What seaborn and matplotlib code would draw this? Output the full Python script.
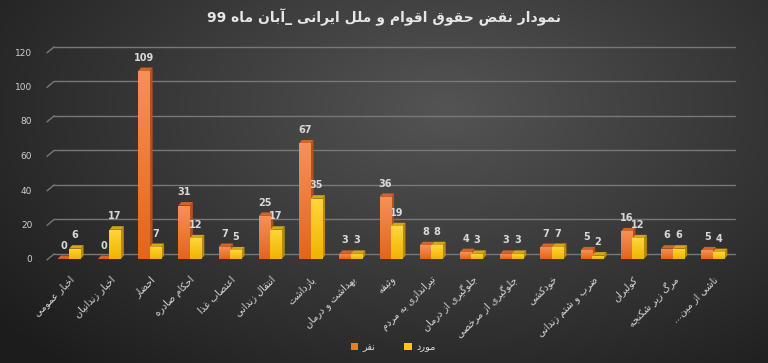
import re
import numpy as np
import pandas as pd
import matplotlib
matplotlib.use("Agg")
import matplotlib.pyplot as plt
from matplotlib.patches import Polygon, Patch
from matplotlib.colors import LinearSegmentedColormap
import seaborn as sns

# ---------------- data ----------------
title_text = "نمودار نقض حقوق اقوام و ملل ایرانی _آبان ماه 99"
categories = ["اخبار عمومی", "اخبار زندانیان", "احضار", "احکام صادره", "اعتصاب غذا",
              "انتقال زندانی", "بازداشت", "بهداشت و درمان", "وثیقه", "تیراندازی به مردم",
              "جلوگیری از درمان", "جلوگیری از مرخصی", "خودکشی", "ضرب و شتم زندانی",
              "کولبران", "مرگ زیر شکنجه", "ناشی از مین..."]
series_names = ["نفر", "مورد"]
values_nafar = [0, 0, 109, 31, 7, 25, 67, 3, 36, 8, 4, 3, 7, 5, 16, 6, 5]
values_mored = [6, 17, 7, 12, 5, 17, 35, 3, 19, 8, 3, 3, 7, 2, 12, 6, 4]
y_ticks = [0, 20, 40, 60, 80, 100, 120]

# ---------------- Arabic/Persian shaping ----------------
def _f(*codes):
    return tuple(chr(c) for c in codes)

FORMS = {
    'ء': _f(0xFE80, 0xFE80),
    'آ': _f(0xFE81, 0xFE82), 'أ': _f(0xFE83, 0xFE84), 'ؤ': _f(0xFE85, 0xFE86),
    'إ': _f(0xFE87, 0xFE88), 'ئ': _f(0xFE89, 0xFE8A, 0xFE8B, 0xFE8C),
    'ا': _f(0xFE8D, 0xFE8E), 'ب': _f(0xFE8F, 0xFE90, 0xFE91, 0xFE92),
    'ة': _f(0xFE93, 0xFE94), 'ت': _f(0xFE95, 0xFE96, 0xFE97, 0xFE98),
    'ث': _f(0xFE99, 0xFE9A, 0xFE9B, 0xFE9C), 'ج': _f(0xFE9D, 0xFE9E, 0xFE9F, 0xFEA0),
    'ح': _f(0xFEA1, 0xFEA2, 0xFEA3, 0xFEA4), 'خ': _f(0xFEA5, 0xFEA6, 0xFEA7, 0xFEA8),
    'د': _f(0xFEA9, 0xFEAA), 'ذ': _f(0xFEAB, 0xFEAC), 'ر': _f(0xFEAD, 0xFEAE),
    'ز': _f(0xFEAF, 0xFEB0), 'س': _f(0xFEB1, 0xFEB2, 0xFEB3, 0xFEB4),
    'ش': _f(0xFEB5, 0xFEB6, 0xFEB7, 0xFEB8), 'ص': _f(0xFEB9, 0xFEBA, 0xFEBB, 0xFEBC),
    'ض': _f(0xFEBD, 0xFEBE, 0xFEBF, 0xFEC0), 'ط': _f(0xFEC1, 0xFEC2, 0xFEC3, 0xFEC4),
    'ظ': _f(0xFEC5, 0xFEC6, 0xFEC7, 0xFEC8), 'ع': _f(0xFEC9, 0xFECA, 0xFECB, 0xFECC),
    'غ': _f(0xFECD, 0xFECE, 0xFECF, 0xFED0), 'ف': _f(0xFED1, 0xFED2, 0xFED3, 0xFED4),
    'ق': _f(0xFED5, 0xFED6, 0xFED7, 0xFED8), 'ك': _f(0xFED9, 0xFEDA, 0xFEDB, 0xFEDC),
    'ل': _f(0xFEDD, 0xFEDE, 0xFEDF, 0xFEE0), 'م': _f(0xFEE1, 0xFEE2, 0xFEE3, 0xFEE4),
    'ن': _f(0xFEE5, 0xFEE6, 0xFEE7, 0xFEE8), 'ه': _f(0xFEE9, 0xFEEA, 0xFEEB, 0xFEEC),
    'و': _f(0xFEED, 0xFEEE), 'ى': _f(0xFEEF, 0xFEF0),
    'ي': _f(0xFEF1, 0xFEF2, 0xFEF3, 0xFEF4),
    'پ': _f(0xFB56, 0xFB57, 0xFB58, 0xFB59), 'چ': _f(0xFB7A, 0xFB7B, 0xFB7C, 0xFB7D),
    'ژ': _f(0xFB8A, 0xFB8B), 'ک': _f(0xFB8E, 0xFB8F, 0xFB90, 0xFB91),
    'گ': _f(0xFB92, 0xFB93, 0xFB94, 0xFB95), 'ی': _f(0xFBFC, 0xFBFD, 0xFBFE, 0xFBFF),
}
LAM_ALEF = {'ا': _f(0xFEFB, 0xFEFC), 'آ': _f(0xFEF5, 0xFEF6),
            'أ': _f(0xFEF7, 0xFEF8), 'إ': _f(0xFEF9, 0xFEFA)}


def shape(s):
    items = []
    i = 0
    while i < len(s):
        c = s[i]
        if c == 'ل' and i + 1 < len(s) and s[i + 1] in LAM_ALEF:
            items.append(('LA', s[i + 1]))
            i += 2
        else:
            items.append(c)
            i += 1

    def forms(it):
        if isinstance(it, tuple):
            return LAM_ALEF[it[1]]
        return FORMS.get(it)

    out = []
    for k, it in enumerate(items):
        f = forms(it)
        if f is None:
            out.append(it)
            continue
        pf = forms(items[k - 1]) if k > 0 else None
        prev_join = pf is not None and len(pf) == 4
        next_join = len(f) == 4 and k + 1 < len(items) and forms(items[k + 1]) is not None
        if prev_join and next_join:
            g = f[3]
        elif prev_join:
            g = f[1]
        elif next_join:
            g = f[2]
        else:
            g = f[0]
        out.append(g)
    rev = "".join(out)[::-1]
    return re.sub(r'[0-9A-Za-z]+', lambda m: m.group(0)[::-1], rev)


# ---------------- figure ----------------
sns.set_theme(style="white")
plt.rcParams['font.family'] = ['DejaVu Sans']

W, H = 768, 363
fig = plt.figure(figsize=(W / 100, H / 100), dpi=100)

# background radial gradient
bg = fig.add_axes([0, 0, 1, 1], zorder=-10)
yy, xx = np.mgrid[0:H, 0:W]
cx, cy = 0.58 * W, 0.30 * H
d = np.sqrt(((xx - cx) / (0.75 * W)) ** 2 + ((yy - cy) / (0.95 * H)) ** 2)
d = np.clip(d, 0, 1)
c_in = np.array([0x54, 0x54, 0x54]) / 255
c_out = np.array([0x1c, 0x1c, 0x1c]) / 255
img = c_in[None, None, :] * (1 - d[..., None]) + c_out[None, None, :] * d[..., None]
bg.imshow(img, aspect='auto', extent=[0, 1, 0, 1], origin='upper')
bg.set_axis_off()

ax = fig.add_axes([49 / W, 1 - 259 / H, (733 - 49) / W, (259 - 52) / H])
ax.patch.set_alpha(0)

df = pd.DataFrame({
    "cat": [shape(c) for c in categories] * 2,
    "series": [shape(series_names[0])] * len(categories) + [shape(series_names[1])] * len(categories),
    "value": values_nafar + values_mored,
})
orange, yellow = "#f07828", "#fcc414"
orange_side, yellow_side = "#b4521a", "#b68a0a"
orange_top, yellow_top = "#d0642a", "#d6a614"
grad_maps = [LinearSegmentedColormap.from_list("o", ["#e2661a", "#f6915a"]),
             LinearSegmentedColormap.from_list("y", ["#f0b400", "#ffd63a"])]

sns.barplot(data=df, x="cat", y="value", hue="series", palette=[orange, yellow],
            width=0.57, gap=0, ax=ax, legend=False, zorder=3, linewidth=0, saturation=1)

ax.set_ylim(0, 120)
ax.set_xlim(-0.5, len(categories) - 0.5)

# 3D-ish side and top faces of bars, and vertical gradient on the front face
ddx, ddy = 0.075, 2.0
grad = np.linspace(0, 1, 64).reshape(-1, 1)
for cont, side, top, cmap in zip(ax.containers, [orange_side, yellow_side],
                                 [orange_top, yellow_top], grad_maps):
    for p in cont.patches:
        x0, y0 = p.get_x(), p.get_y()
        x1, y1 = x0 + p.get_width(), y0 + p.get_height()
        ax.add_patch(Polygon([(x1, y0), (x1 + ddx, y0 + ddy), (x1 + ddx, y1 + ddy), (x1, y1)],
                             closed=True, facecolor=side, edgecolor='none', zorder=2.5, clip_on=False))
        ax.add_patch(Polygon([(x0, y1), (x0 + ddx, y1 + ddy), (x1 + ddx, y1 + ddy), (x1, y1)],
                             closed=True, facecolor=top, edgecolor='none', zorder=2.5, clip_on=False))
        if y1 > y0:
            im = ax.imshow(grad, cmap=cmap, extent=[x0, x1, y0, y1], origin='lower',
                           aspect='auto', zorder=3.5, interpolation='bilinear')
            im.set_clip_path(p)

ax.set_ylim(0, 120)
ax.set_xlim(-0.5, len(categories) - 0.5)

# gridlines on back wall with perspective stub
gdx, gdy = 0.13, 3.0
for v in y_ticks:
    ax.plot([-0.5 + gdx, len(categories) - 0.5 + 0.05], [v + gdy, v + gdy], color="#787878",
            lw=1.0, zorder=1, clip_on=False)
    ax.plot([-0.5 - 0.05, -0.5 + gdx], [v - 0.5, v + gdy], color="#787878", lw=1.0, zorder=1,
            clip_on=False)

for cont in ax.containers:
    ax.bar_label(cont, padding=6, color="#d9d9d9", fontsize=7, fontweight='bold')

for s in ax.spines.values():
    s.set_visible(False)
ax.grid(False)
ax.set_yticks(y_ticks)
ax.tick_params(axis='y', length=0, pad=12, labelsize=6.5, labelcolor="#d0d0d0")
ax.tick_params(axis='x', length=0, pad=11, labelsize=7, labelcolor="#d9d9d9")
ax.set_xlabel("")
ax.set_ylabel("")
ax.set_xticks(range(len(categories)))
ax.set_xticklabels([shape(c) for c in categories], rotation=45, ha='right',
                   rotation_mode='anchor')

fig.text(0.5, 1 - 17 / H, shape(title_text), ha='center', va='center', color="#e6e6e6",
         fontsize=10, fontweight='bold')

handles = [Patch(facecolor=orange, edgecolor='none'), Patch(facecolor=yellow, edgecolor='none')]
fig.legend(handles, [shape(n) for n in series_names], loc='center', ncol=2,
           bbox_to_anchor=(393 / W, 1 - 347 / H), frameon=False, fontsize=7,
           labelcolor="#d9d9d9", handlelength=0.8, handleheight=0.8, handletextpad=0.4,
           columnspacing=3.0)

fig.savefig("out.png", dpi=100, facecolor="#2a2a2a")
